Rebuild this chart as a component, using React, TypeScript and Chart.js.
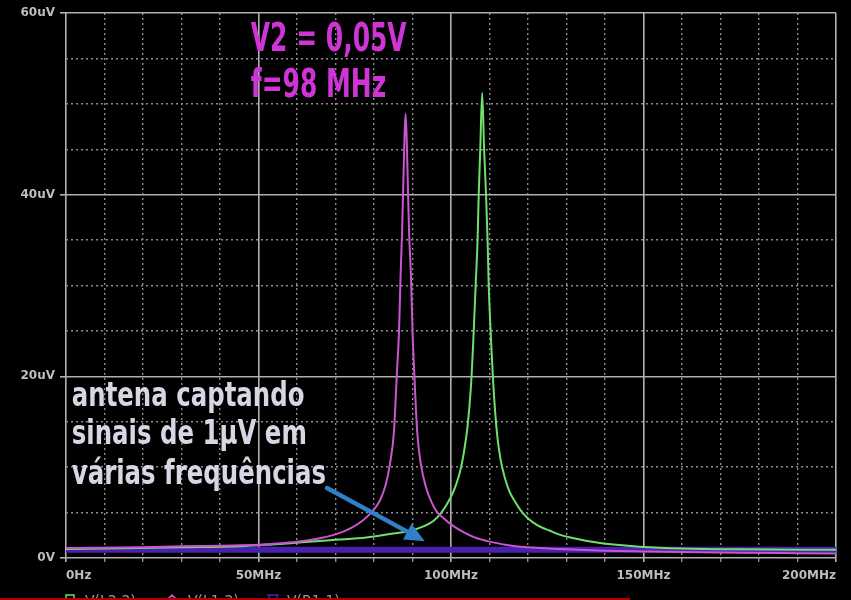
import React, { useEffect, useRef } from 'react';
import { Chart, registerables } from 'chart.js';

Chart.register(...registerables);

// ---- axes ----
const X_MIN = 0;
const X_MAX = 200;
const X_STEP = 10;
const X_MAJOR = 50;
const Y_MIN = 0;
const Y_MAX = 60;
const Y_STEP = 5;
const Y_MAJOR = 20;

// ---- series (MHz, uV) ----
const seriesNames = ['V(L2:2)', 'V(L1:2)', 'V(R1:1)'];

const freqL1 = [0, 10, 20, 30, 40, 50, 55, 60, 65, 70, 74, 77, 79.5, 81.5, 83, 84.2, 85.2, 85.9, 86.5, 86.9, 87.3, 87.6, 87.9, 88.2, 88.5, 88.8, 89.1, 89.6, 90, 90.5, 91.2, 92.1, 93.5, 95, 96.3, 98, 100, 103, 106, 110, 114.5, 118, 123, 130, 140, 150, 160, 175, 190, 200];
const voltL1 = [1.1, 1.12, 1.18, 1.28, 1.36, 1.45, 1.6, 1.8, 2.1, 2.6, 3.3, 4.1, 5.1, 6.3, 8, 10.5, 14, 20, 25, 31, 36, 41, 46, 48.9, 46, 41, 36, 31, 25, 20, 14, 10.5, 7.8, 6.1, 5.1, 4.4, 3.7, 2.9, 2.3, 1.8, 1.44, 1.25, 1.1, 0.95, 0.8, 0.72, 0.65, 0.58, 0.53, 0.5];

const freqL2 = [0, 15, 30, 45, 52, 59, 65, 70, 78, 85, 89.5, 93, 95.5, 97.5, 99.2, 100.5, 101.5, 102.4, 103.3, 104.3, 105.2, 105.8, 106.4, 106.9, 107.2, 107.6, 108.1, 108.6, 109.1, 109.5, 109.8, 110.4, 111, 112, 112.9, 114, 115.2, 116.5, 118, 120, 122.5, 125.7, 128, 131, 135, 138.7, 143, 149, 160, 175, 200];
const voltL2 = [1.0, 1.08, 1.18, 1.3, 1.45, 1.66, 1.85, 2.0, 2.25, 2.7, 3.0, 3.5, 4.1, 5.0, 6.1, 7.2, 8.3, 9.6, 11.5, 14.5, 19, 24, 30, 35, 40, 45, 51.2, 45, 40, 35, 30, 24, 19, 13.5, 10.8, 8.8, 7.3, 6.3, 5.3, 4.35, 3.6, 3.0, 2.6, 2.25, 1.9, 1.66, 1.45, 1.25, 1.05, 0.95, 0.9];

const freqR1 = [0, 200];
const voltR1 = [0.9, 0.9];

// ---- texts ----
const titleLines = ['V2 = 0,05V', 'f=98 MHz'];
const noteLines = ['antena captando', 'sinais de 1µV em', 'várias frequências'];
// annotation anchors in data units (MHz, uV)
const titleAnchor = { x: 48, y: [55.8, 50.8] };
const noteAnchor = { x: 1.5, y: [16.7, 12.5, 8.1] };
const arrowFrom = { x: 67.8, y: 7.7 };
const arrowTo = { x: 93.2, y: 1.85 };

const COLORS = {
  L2: '#6fe06a',
  L1: '#c955cf',
  R1: '#4a20b0',
  major: '#b0b0b0',
  minor: '#8c8c8c',
  tick: '#bdbdbd',
  title: '#cf34d6',
  note: '#d6d6e4',
  arrow: '#2f80c6',
};

const textFamily = "'DejaVu Sans', sans-serif";

const toPts = (xs: number[], ys: number[]) => xs.map((x, i) => ({ x, y: ys[i] }));

const drawNarrow = (ctx: CanvasRenderingContext2D, text: string, x: number, y: number, sx: number) => {
  ctx.save();
  ctx.translate(x, y);
  ctx.scale(sx, 1);
  ctx.fillText(text, 0, 0);
  ctx.restore();
};

const annotationPlugin = {
  id: 'annotations',
  afterDatasetsDraw(chart: any) {
    const { ctx, scales } = chart;
    const xs = scales.x;
    const ys = scales.y;
    ctx.save();
    // arrow
    const x0 = xs.getPixelForValue(arrowFrom.x);
    const y0 = ys.getPixelForValue(arrowFrom.y);
    const x1 = xs.getPixelForValue(arrowTo.x);
    const y1 = ys.getPixelForValue(arrowTo.y);
    const ang = Math.atan2(y1 - y0, x1 - x0);
    const headLen = 20;
    const headHalf = 9;
    const bx = x1 - headLen * Math.cos(ang);
    const by = y1 - headLen * Math.sin(ang);
    ctx.strokeStyle = COLORS.arrow;
    ctx.fillStyle = COLORS.arrow;
    ctx.lineWidth = 4.5;
    ctx.lineCap = 'round';
    ctx.beginPath();
    ctx.moveTo(x0, y0);
    ctx.lineTo(bx, by);
    ctx.stroke();
    ctx.beginPath();
    ctx.moveTo(x1, y1);
    ctx.lineTo(bx + headHalf * Math.sin(ang), by - headHalf * Math.cos(ang));
    ctx.lineTo(bx - headHalf * Math.sin(ang), by + headHalf * Math.cos(ang));
    ctx.closePath();
    ctx.fill();

    // title
    ctx.textAlign = 'left';
    ctx.textBaseline = 'alphabetic';
    ctx.fillStyle = COLORS.title;
    ctx.font = `bold 39px ${textFamily}`;
    titleLines.forEach((t, i) => {
      drawNarrow(ctx, t, xs.getPixelForValue(titleAnchor.x), ys.getPixelForValue(titleAnchor.y[i]), 0.64);
    });
    // note
    ctx.fillStyle = COLORS.note;
    ctx.font = `bold 33px ${textFamily}`;
    noteLines.forEach((t, i) => {
      drawNarrow(ctx, t, xs.getPixelForValue(noteAnchor.x), ys.getPixelForValue(noteAnchor.y[i]), 0.74);
    });
    ctx.restore();
  },
  afterDraw(chart: any) {
    const { ctx } = chart;
    const H = chart.height;
    ctx.save();
    // bottom legend (partly cut by the frame)
    ctx.font = "14px 'DejaVu Sans', sans-serif";
    ctx.textBaseline = 'top';
    ctx.textAlign = 'left';
    const top = H - 6;
    const items = [
      { name: seriesNames[0], color: COLORS.L2, shape: 'square', mx: 70, tx: 85 },
      { name: seriesNames[1], color: COLORS.L1, shape: 'diamond', mx: 172, tx: 188 },
      { name: seriesNames[2], color: COLORS.R1, shape: 'triangle', mx: 273, tx: 287 },
    ];
    items.forEach((it) => {
      ctx.strokeStyle = it.color;
      ctx.lineWidth = 1.5;
      ctx.beginPath();
      if (it.shape === 'square') {
        ctx.rect(it.mx - 4, top + 1, 8, 8);
      } else if (it.shape === 'diamond') {
        ctx.moveTo(it.mx, top + 1);
        ctx.lineTo(it.mx + 5, top + 6);
        ctx.lineTo(it.mx, top + 11);
        ctx.lineTo(it.mx - 5, top + 6);
        ctx.closePath();
      } else {
        ctx.moveTo(it.mx - 5, top + 1);
        ctx.lineTo(it.mx + 5, top + 1);
        ctx.lineTo(it.mx, top + 10);
        ctx.closePath();
      }
      ctx.stroke();
      ctx.fillStyle = '#9a9a9a';
      ctx.fillText(it.name, it.tx, top);
    });
    // video progress bar
    ctx.fillStyle = '#b00000';
    ctx.fillRect(0, H - 2, 630, 2);
    ctx.restore();
  },
};

const isMajor = (v: number, m: number) => Math.abs(v % m) < 1e-6;

export default function App() {
  const ref = useRef<HTMLCanvasElement | null>(null);

  useEffect(() => {
    if (!ref.current) return;
    const tickFont = { family: "'DejaVu Sans', sans-serif", size: 12, weight: 'bold' as const };
    const chart = new Chart(ref.current, {
      type: 'line',
      data: {
        datasets: [
          {
            label: seriesNames[2],
            data: toPts(freqR1, voltR1),
            borderColor: COLORS.R1,
            borderWidth: 6,
            pointRadius: 0,
            order: 3,
          },
          {
            label: seriesNames[0],
            data: toPts(freqL2, voltL2),
            borderColor: COLORS.L2,
            borderWidth: 2,
            pointRadius: 0,
            cubicInterpolationMode: 'monotone',
            order: 2,
          },
          {
            label: seriesNames[1],
            data: toPts(freqL1, voltL1),
            borderColor: COLORS.L1,
            borderWidth: 2,
            pointRadius: 0,
            cubicInterpolationMode: 'monotone',
            order: 1,
          },
        ],
      },
      options: {
        responsive: false,
        animation: false,
        devicePixelRatio: 1,
        layout: { padding: { left: 0, top: 13, right: 15, bottom: 0 } },
        plugins: { legend: { display: false }, tooltip: { enabled: false } },
        scales: {
          x: {
            type: 'linear',
            min: X_MIN,
            max: X_MAX,
            afterFit: (s: any) => {
              s.height = 42;
              s.paddingLeft = 0;
              s.paddingRight = 0;
            },
            ticks: {
              stepSize: X_STEP,
              autoSkip: false,
              maxRotation: 0,
              align: 'inner',
              padding: 7,
              color: COLORS.tick,
              font: tickFont,
              callback: (v: any) => {
                const n = Number(v);
                if (!isMajor(n, X_MAJOR)) return '';
                return n === 0 ? '0Hz' : `${n}MHz`;
              },
            },
            grid: {
              color: (c: any) => (c.tick && isMajor(c.tick.value, X_MAJOR) ? COLORS.major : COLORS.minor),
              lineWidth: (c: any) => (c.tick && isMajor(c.tick.value, X_MAJOR) ? 1.6 : 1.4),
              tickColor: (c: any) => (c.tick && isMajor(c.tick.value, X_MAJOR) ? COLORS.major : COLORS.minor),
              tickLength: 4,
            },
            border: {
              display: false,
              dash: (c: any) => (c.tick && isMajor(c.tick.value, X_MAJOR) ? [] : [2, 3]),
            },
          },
          y: {
            type: 'linear',
            min: Y_MIN,
            max: Y_MAX,
            afterFit: (s: any) => {
              s.width = 66;
            },
            ticks: {
              stepSize: Y_STEP,
              autoSkip: false,
              padding: 5,
              color: COLORS.tick,
              font: tickFont,
              callback: (v: any) => {
                const n = Number(v);
                if (!isMajor(n, Y_MAJOR)) return '';
                return n === 0 ? '0V' : `${n}uV`;
              },
            },
            grid: {
              color: (c: any) => (c.tick && isMajor(c.tick.value, Y_MAJOR) ? COLORS.major : COLORS.minor),
              lineWidth: (c: any) => (c.tick && isMajor(c.tick.value, Y_MAJOR) ? 1.6 : 1.4),
              tickColor: (c: any) => (c.tick && isMajor(c.tick.value, Y_MAJOR) ? COLORS.major : 'rgba(0,0,0,0)'),
              tickLength: 6,
            },
            border: {
              display: false,
              dash: (c: any) => (c.tick && isMajor(c.tick.value, Y_MAJOR) ? [] : [2, 3]),
            },
          },
        },
      } as any,
      plugins: [annotationPlugin],
    });
    return () => chart.destroy();
  }, []);

  return (
    <div style={{ position: 'fixed', left: 0, top: 0, width: 851, height: 600, background: '#000', overflow: 'hidden' }}>
      <canvas ref={ref} width={851} height={600} style={{ display: 'block', width: 851, height: 600 }} />
    </div>
  );
}
